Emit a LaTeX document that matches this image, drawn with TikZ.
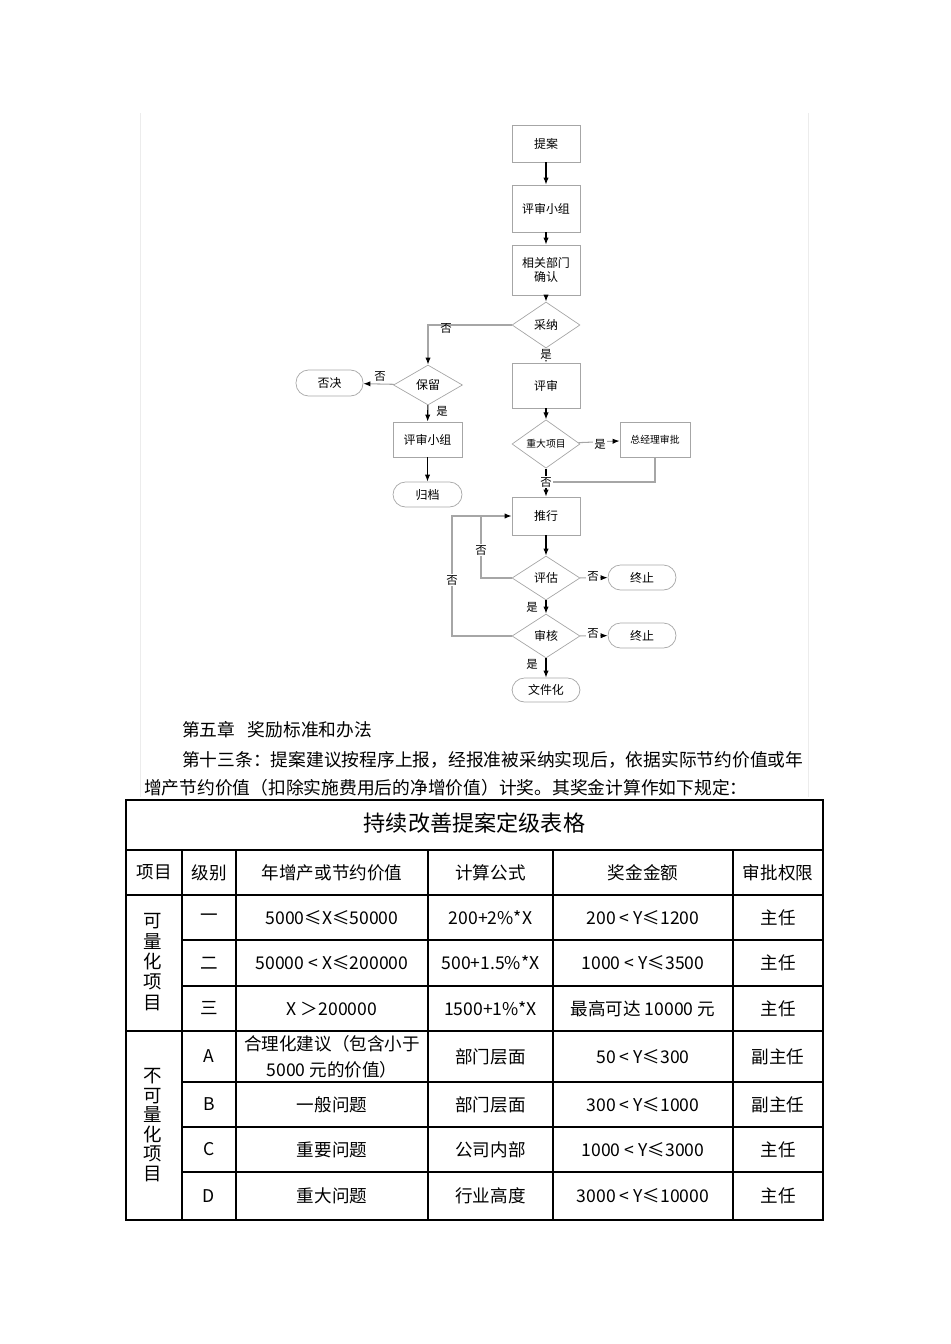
\documentclass[tikz,border=0pt]{standalone}
\usepackage{fontspec}
\setmainfont{Noto Sans CJK SC}
\usetikzlibrary{arrows.meta,shapes.geometric}

\begin{document}
\begin{tikzpicture}[
    x=0.02cm, y=-0.02cm,
    box/.style={rectangle, draw=gray!70, minimum width=1.36cm, align=center,
                font=\fontsize{6.8}{8.4}\selectfont, inner sep=1pt},
    choice/.style={diamond, draw=gray!70, minimum width=1.36cm, minimum height=0.88cm,
                   font=\fontsize{6.8}{8.4}\selectfont, inner sep=0pt},
    term/.style={rectangle, rounded corners=0.25cm, draw=gray!70, minimum width=1.36cm,
                 minimum height=0.5cm, font=\fontsize{6.8}{8.4}\selectfont},
    lbl/.style={font=\fontsize{6.5}{8}\selectfont, inner sep=0.5pt},
    flow/.style={semithick, -{Latex[length=4pt,width=3pt]}},
    side/.style={semithick, gray!70, -{Latex[length=4pt,width=3pt,color=black]}},
    cell/.style={font=\fontsize{10}{12.5}\selectfont, align=center},
    >=Stealth
]
\useasboundingbox (0,0) rectangle (950,1344);

% Marco de la p\'agina
\draw[gray!15] (140,113) -- (140,797);
\draw[gray!15] (808,113) -- (808,797);

% 主线
\node[box, minimum height=0.74cm] (tian) at (546,143.5) {提案};
\node[box, minimum height=0.94cm] (xiaozu) at (546,208.5) {评审小组};
\node[box, minimum height=1.0cm] (queren) at (546,270) {相关部门\\确认};
\node[choice, minimum height=0.92cm] (caina) at (546,325) {采纳};
\node[box, minimum height=0.9cm] (pingshen) at (546,385.5) {评审};
\node[choice, font=\fontsize{5.6}{7}\selectfont] (zhongda) at (546,444) {重大项目};
\node[box, minimum width=1.4cm, minimum height=0.7cm, font=\fontsize{5.6}{7}\selectfont]
    (zjl) at (655,439.5) {总经理审批};
\node[box, minimum height=0.76cm] (tuixing) at (546,516) {推行};
\node[choice] (pinggu) at (546,578) {评估};
\node[choice] (shenhe) at (546,636) {审核};
\node[term] (zz1) at (642,577.5) {终止};
\node[term] (zz2) at (642,635.5) {终止};
\node[term, minimum height=0.48cm] (wenjian) at (546,690) {文件化};

% 左支
\node[choice, minimum width=1.38cm, minimum height=0.8cm] (baoliu) at (428,385) {保留};
\node[term, minimum width=1.34cm, minimum height=0.52cm] (foujue) at (329.5,383) {否决};
\node[box, minimum width=1.38cm, minimum height=0.7cm] (xiaozu2) at (427.5,439.5) {评审小组};
\node[term, minimum width=1.38cm] (guidang) at (427.5,494.5) {归档};

% Flechas
\draw[flow] (tian) -- (xiaozu);
\draw[flow] (xiaozu) -- (queren);
\draw[flow] (queren) -- (caina);
\draw[side] (caina.west) -| (baoliu.north);
\draw[flow] (caina) -- (pingshen);
\draw[flow] (pingshen) -- (zhongda);
\draw[side] (zhongda) -- (zjl);
\draw[flow] (zhongda) -- (tuixing);
\coordinate (hui) at (546,482);
\draw[semithick, gray!70] (zjl.south) |- (hui);
\draw[flow] (tuixing) -- (pinggu);
\coordinate (fan1) at (481,516);
\coordinate (fan2) at (452,516);
\draw[side] (pinggu.west) -| (fan1) -- (tuixing.west);
\draw[semithick, gray!70] (shenhe.west) -| (fan2) -- (fan1);
\draw[side] (pinggu) -- (zz1);
\draw[flow] (pinggu) -- (shenhe);
\draw[side] (shenhe) -- (zz2);
\draw[flow] (shenhe) -- (wenjian);
\draw[side] (baoliu) -- (foujue);
\draw[flow] (baoliu) -- (xiaozu2);
\draw[flow] (xiaozu2) -- (guidang);

% 是 / 否
\node[lbl] (f1) at (446,328) {否};
\node[lbl, fill=white] (s1) at (546,354) {是};
\node[lbl] (f2) at (380,376) {否};
\node[lbl] (s2) at (442,411) {是};
\node[lbl, fill=white] (s3) at (600,444) {是};
\node[lbl, fill=white] (f3) at (546,482) {否};
\node[lbl, fill=white] (f4) at (481,550) {否};
\node[lbl, fill=white] (f5) at (452,580) {否};
\node[lbl, fill=white] (f6) at (593,576) {否};
\node[lbl] (s4) at (532,607) {是};
\node[lbl, fill=white] (f7) at (593,633) {否};
\node[lbl] (s5) at (532,664) {是};

% Texto
\node[cell, anchor=west, font=\fontsize{10.1}{12}\selectfont] (zhang) at (176,730)
    {第五章\hspace{0.7em}奖励标准和办法};
\node[cell, anchor=west, font=\fontsize{10.1}{12}\selectfont] (tiao1) at (176,760)
    {第十三条：提案建议按程序上报，经报准被采纳实现后，依据实际节约价值或年};
\node[cell, anchor=west, font=\fontsize{10.1}{12}\selectfont] (tiao2) at (138,788)
    {增产节约价值（扣除实施费用后的净增价值）计奖。其奖金计算作如下规定：};

% Tabla
\draw[line width=0.9pt] (126,800) rectangle (823,1220);
\draw[line width=0.6pt] (126,850) -- (823,850) (126,895) -- (823,895) (126,1031) -- (823,1031);
\foreach \yy in {940,986,1082,1127,1172}
    \draw[line width=0.6pt] (182,\yy) -- (823,\yy);
\foreach \xx in {182,236,428,553,733}
    \draw[line width=0.6pt] (\xx,850) -- (\xx,1220);

\node[cell, font=\fontsize{12.6}{14}\selectfont] (biaoti) at (474.5,823) {持续改善提案定级表格};
\foreach \xx/\t [count=\i] in {154/项目, 209/级别, 332/年增产或节约价值, 490.5/计算公式, 643/奖金金额, 778/审批权限}
    \node[cell] (h\i) at (\xx,872.5) {\t};

\node[cell, font=\fontsize{10.5}{11.6}\selectfont] (ke) at (153,962) {可\\量\\化\\项\\目};
\node[cell, font=\fontsize{10.5}{11.1}\selectfont] (buke) at (153,1125) {不\\可\\量\\化\\项\\目};

\foreach \yy/\b/\c/\d/\e/\f [count=\i] in {
    917.5/一/{5000≤X≤50000}/{200+2\%*X}/{200 < Y≤1200}/主任,
    963/二/{50000 < X≤200000}/{500+1.5\%*X}/{1000 < Y≤3500}/主任,
    1008.5/三/{X ＞200000}/{1500+1\%*X}/{最高可达 10000 元}/主任,
    1056.5/A/{合理化建议（包含小于\\[2.5pt]5000 元的价值）}/部门层面/{50 < Y≤300}/副主任,
    1104.5/B/一般问题/部门层面/{300 < Y≤1000}/副主任,
    1149.5/C/重要问题/公司内部/{1000 < Y≤3000}/主任,
    1196/D/重大问题/行业高度/{3000 < Y≤10000}/主任}
{
    \node[cell] (b\i) at (209,\yy) {\b};
    \node[cell] (c\i) at (332,\yy) {\c};
    \node[cell] (d\i) at (490.5,\yy) {\d};
    \node[cell] (e\i) at (643,\yy) {\e};
    \node[cell] (f\i) at (778,\yy) {\f};
}

\end{tikzpicture}
\end{document}
